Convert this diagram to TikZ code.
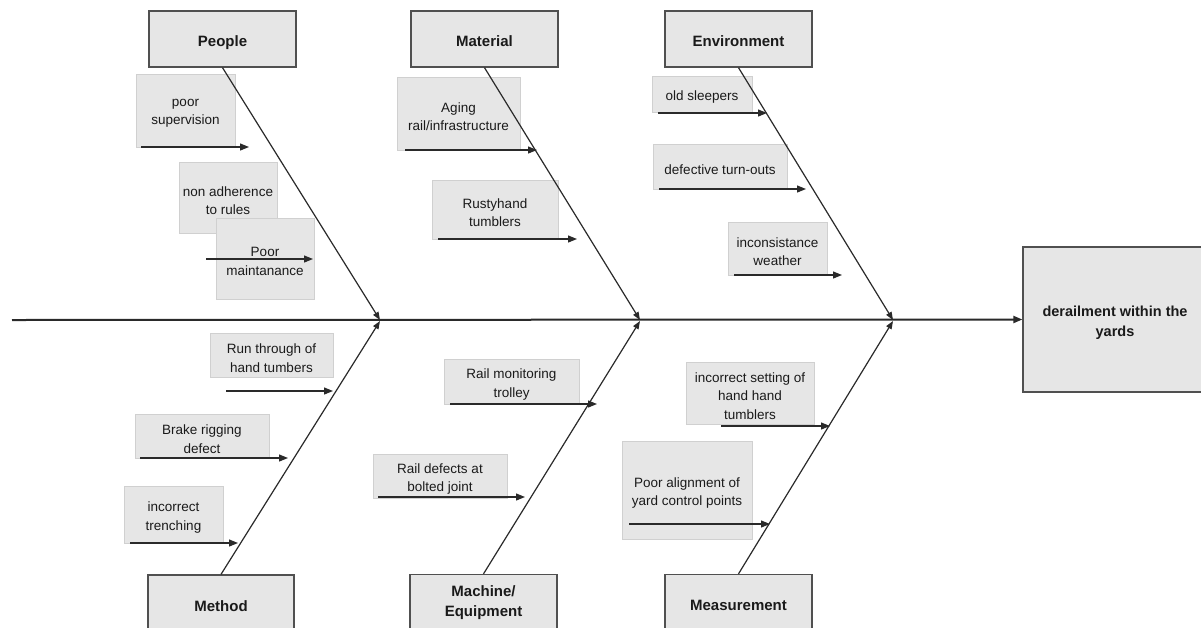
\documentclass[tikz,border=0pt]{standalone}
\usepackage{fontspec}
\setmainfont{Liberation Sans}
\usetikzlibrary{arrows.meta}
\definecolor{boxfill}{HTML}{E6E6E6}
\definecolor{causeborder}{HTML}{D0D0D0}
\definecolor{catborder}{HTML}{505050}
\definecolor{txt}{HTML}{1A1A1A}
\definecolor{linec}{HTML}{2A2A2A}
\begin{document}
\begin{tikzpicture}[x=1pt,y=-1pt,
  catstrut/.style={execute at begin node={\rule{0pt}{19pt}}, execute at end node={\rule[-4pt]{0pt}{4pt}}},
  catbox/.style={draw=catborder, line width=1.3pt, fill=boxfill, inner sep=0pt, catstrut,
    font=\fontsize{15}{20}\selectfont\bfseries, text=txt, align=center},
  causetxt/.style={font=\fontsize{13.5}{18.5}\selectfont, text=txt, align=center, yshift=-3pt},
  causebox/.style={draw=causeborder, line width=0.8pt, fill=boxfill, inner sep=0pt,
    label={[causetxt]center:{#1}}},
  effecttxt/.style={font=\fontsize{14.5}{20}\selectfont\bfseries, text=txt, align=center, yshift=-3pt},
  effectbox/.style={draw=catborder, line width=1.3pt, fill=boxfill, inner sep=0pt,
    label={[effecttxt]center:{#1}}},
  bone/.style={draw=linec, line width=1.2pt, -{Triangle[length=8pt,width=6pt]}},
  subarrow/.style={draw=linec, line width=1.2pt, -{Triangle[length=9pt,width=7pt]}},
  spine/.style={draw=linec, line width=2pt, -{Triangle[length=9pt,width=7pt]}}
]
\clip (0,0) rectangle (1201,627);
\fill[white] (0,0) rectangle (1201,627);

% effect box
\node[effectbox={derailment within the\\yards}, minimum width=184, minimum height=145] (effect) at (1115,319.5) {};

% category boxes
\node[catbox, minimum width=147, minimum height=56] (people) at (222.5,39) {People};
\node[catbox, minimum width=147, minimum height=56] (material) at (484.5,39) {Material};
\node[catbox, minimum width=147, minimum height=56] (environment) at (738.5,39) {Environment};
\node[catbox, minimum width=146, minimum height=57] (method) at (221,603.5) {Method};
\node[catbox, minimum width=147, minimum height=57] (machine) at (483.5,603) {Machine/\\Equipment};
\node[catbox, minimum width=147, minimum height=57] (measurement) at (738.5,603) {Measurement};

% cause boxes
\node[causebox={poor\\supervision}, minimum width=99, minimum height=73] (ps) at (185.5,110.5) {};
\node[causebox={non adherence\\to rules}, minimum width=98, minimum height=71] (na) at (228,197.5) {};
\node[causebox={Poor\\maintanance}, minimum width=98, minimum height=81] (pm) at (265,258.5) {};
\node[causebox={Aging\\rail/infrastructure}, minimum width=123, minimum height=73] (ar) at (458.5,113.5) {};
\node[causebox={Rustyhand\\tumblers}, minimum width=126, minimum height=59] (rt) at (495,209.5) {};
\node[causebox={old sleepers}, minimum width=100, minimum height=36] (os) at (702,94) {};
\node[causebox={defective turn-outs}, minimum width=134, minimum height=45] (dt) at (720,166.5) {};
\node[causebox={inconsistance\\weather}, minimum width=99, minimum height=53] (iw) at (777.5,248.5) {};
\node[causebox={Run through of\\hand tumbers}, minimum width=123, minimum height=44] (rh) at (271.5,355) {};
\node[causebox={Brake rigging\\defect}, minimum width=134, minimum height=44] (br) at (202,436) {};
\node[causebox={incorrect\\trenching}, minimum width=99, minimum height=57] (it) at (173.5,514.5) {};
\node[causebox={Rail monitoring\\trolley}, minimum width=135, minimum height=45] (rm) at (511.5,381.5) {};
\node[causebox={Rail defects at\\bolted joint}, minimum width=134, minimum height=44] (rd) at (440,476) {};
\node[causebox={incorrect setting of\\hand hand\\tumblers}, minimum width=128, minimum height=62] (is) at (750,393) {};
\node[causebox={Poor alignment of\\yard control points}, minimum width=130, minimum height=98] (pa) at (687,490) {};

% spine
\coordinate (tail) at (12,320);
\draw[spine] (tail) -- (effect.west);

% bone heads on spine
\coordinate (h1) at (380,320);
\coordinate (h2) at (640,320);
\coordinate (h3) at (893,320);
\coordinate (b1) at (380,321);
\coordinate (b2) at (640,321);
\coordinate (b3) at (893,321);
\draw[bone] (people.south) -- (h1);
\draw[bone] (material.south) -- (h2);
\draw[bone] (environment.south) -- (h3);
\draw[bone] (method.north) -- (b1);
\draw[bone] (machine.north) -- (b2);
\draw[bone] (measurement.north) -- (b3);

% sub-cause arrows
\coordinate (ps1) at (141,147); \coordinate (ps2) at (249,147);
\coordinate (pm1) at (206,259); \coordinate (pm2) at (313,259);
\coordinate (ar1) at (405,150); \coordinate (ar2) at (537,150);
\coordinate (rt1) at (438,239); \coordinate (rt2) at (577,239);
\coordinate (os1) at (658,113); \coordinate (os2) at (767,113);
\coordinate (dt1) at (659,189); \coordinate (dt2) at (806,189);
\coordinate (iw1) at (734,275); \coordinate (iw2) at (842,275);
\coordinate (rh1) at (226,391); \coordinate (rh2) at (333,391);
\coordinate (br1) at (140,458); \coordinate (br2) at (288,458);
\coordinate (it1) at (130,543); \coordinate (it2) at (238,543);
\coordinate (rm1) at (450,404); \coordinate (rm2) at (597,404);
\coordinate (rd1) at (378,497); \coordinate (rd2) at (525,497);
\coordinate (is1) at (721,426); \coordinate (is2) at (830,426);
\coordinate (pa1) at (629,524); \coordinate (pa2) at (770,524);
\foreach \c in {ps,pm,ar,rt,os,dt,iw,rh,br,it,rm,rd,is,pa}{
  \draw[subarrow] (\c1) -- (\c2);
}
\end{tikzpicture}
\end{document}
